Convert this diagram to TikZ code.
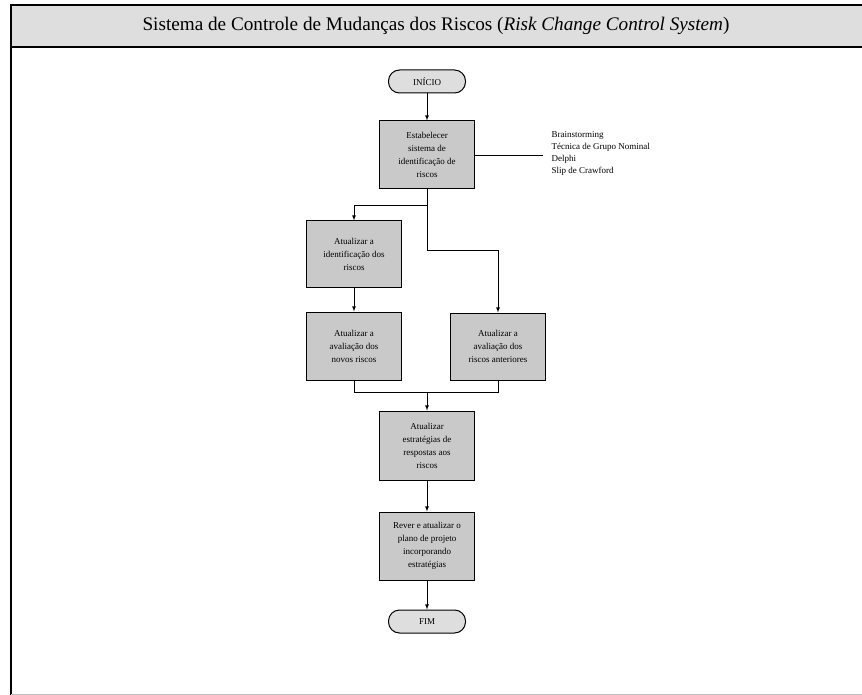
\documentclass[tikz,border=0pt]{standalone}
\usepackage{fontspec}
\setmainfont{Liberation Serif}
\usetikzlibrary{arrows}

\begin{document}
\begin{tikzpicture}[x=1pt,y=-1pt,>=latex,
  caixa/.style={draw,line width=1pt,fill=black!21,minimum width=95pt,minimum height=68pt,
    align=center,font=\fontsize{9}{13}\selectfont,inner sep=2pt},
  term/.style={draw,line width=1pt,fill=black!13,rounded corners=11pt,minimum width=77pt,
    minimum height=23pt,font=\fontsize{9}{11}\selectfont},
  lig/.style={line width=0.8pt}]
\useasboundingbox (0,0) rectangle (862,695);
% moldura e titulo
\fill[black!13] (11,5) rectangle (862,47);
\draw[line width=1.6pt] (862,5) -- (11,5) -- (11,695);
\draw[line width=1.6pt] (11,47) -- (862,47);
\draw[black!25,line width=0.8pt] (11,694) -- (862,694);
\node (titulo) at (436,26) {\fontsize{19.2}{23}\selectfont Sistema de Controle de Mudan\c cas dos Riscos (\textit{Risk Change Control System})};
% fluxo
\node[term] (inicio) at (427,81.5) {IN\'ICIO};
\node[caixa] (est) at (427,155) {Estabelecer\\sistema de\\identifica\c c\~ao de\\riscos};
\node[caixa,minimum height=66pt] (ident) at (354,254) {Atualizar a\\identifica\c c\~ao dos\\riscos};
\node[caixa] (novos) at (354,346) {Atualizar a\\avalia\c c\~ao dos\\novos riscos};
\node[caixa,minimum height=67pt] (anter) at (498,346.5) {Atualizar a\\avalia\c c\~ao dos\\riscos anteriores};
\node[caixa,minimum height=69pt] (estrat) at (427,445.5) {Atualizar\\estrat\'egias de\\respostas aos\\riscos};
\node[caixa] (rever) at (427,546) {Rever e atualizar o\\plano de projeto\\incorporando\\estrat\'egias};
\node[term] (fim) at (427,621.5) {FIM};
\node[anchor=west,align=left,font=\fontsize{9}{12}\selectfont] (tecn) at (548,153)
  {Brainstorming\\T\'ecnica de Grupo Nominal\\Delphi\\Slip de Crawford};
\coordinate (d1) at (427,205);
\coordinate (d2) at (427,250);
\coordinate (j1) at (427,392);
\coordinate (t1) at (543,155);
\draw[lig,->] (inicio) -- (est);
\draw[lig] (est.east) -- (t1);
\draw[lig,->] (est) -- (d1) -| (ident.north);
\draw[lig,->] (d1) -- (d2) -| (anter.north);
\draw[lig,->] (ident) -- (novos);
\draw[lig] (novos.south) |- (j1);
\draw[lig] (anter.south) |- (j1);
\draw[lig,->] (j1) -- (estrat);
\draw[lig,->] (estrat) -- (rever);
\draw[lig,->] (rever) -- (fim);
\end{tikzpicture}
\end{document}
